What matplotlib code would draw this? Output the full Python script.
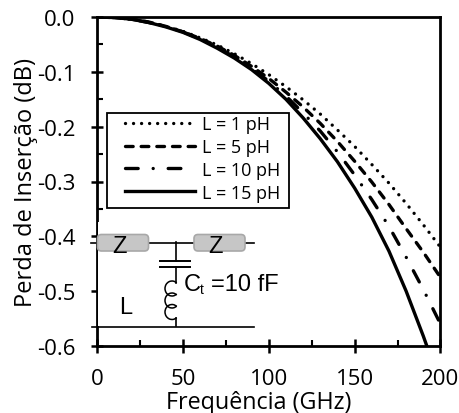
#!/usr/bin/env python
import matplotlib
matplotlib.use('Agg')
import matplotlib.pyplot as plt
from matplotlib.patches import Arc, FancyBboxPatch, Rectangle

freq = [0, 10, 20, 30, 40, 50, 60, 70, 80, 90, 100, 110, 120, 130, 140, 150, 160, 170, 180, 190, 200]
loss_1 = [0, -0.001, -0.004, -0.009, -0.017, -0.026, -0.038, -0.051, -0.067, -0.085, -0.105,
          -0.127, -0.151, -0.177, -0.206, -0.236, -0.269, -0.303, -0.340, -0.379, -0.420]
loss_5 = [0, -0.001, -0.004, -0.009, -0.017, -0.027, -0.039, -0.053, -0.070, -0.090, -0.112,
          -0.137, -0.164, -0.194, -0.227, -0.263, -0.301, -0.342, -0.386, -0.429, -0.475]
loss_10 = [0, -0.001, -0.004, -0.010, -0.017, -0.027, -0.040, -0.055, -0.073, -0.094, -0.117,
           -0.144, -0.175, -0.208, -0.246, -0.288, -0.333, -0.382, -0.438, -0.497, -0.560]
loss_15 = [0, -0.001, -0.004, -0.010, -0.018, -0.028, -0.041, -0.057, -0.075, -0.096, -0.121,
           -0.150, -0.184, -0.222, -0.264, -0.312, -0.365, -0.427, -0.500, -0.582, -0.670]
labels = ['L = 1 pH', 'L = 5 pH', 'L = 10 pH', 'L = 15 pH']
styles = [(0, (0.01, 2.4)), (0, (2.3, 2.4)), (0, (3.8, 4.5, 0.01, 4.5)), '-']

W, H = 460, 414
plt.rcParams['font.family'] = ['Open Sans', 'DejaVu Sans']

fig = plt.figure(figsize=(W / 100, H / 100), dpi=100)
ax = fig.add_axes([97 / W, 1 - 347 / H, 343.5 / W, 329 / H])

for vals, lab, ls in zip([loss_1, loss_5, loss_10, loss_15], labels, styles):
    line, = ax.plot(freq, vals, color='k', lw=2.4, label=lab, linestyle=ls)
    line.set_dash_capstyle('round')

ax.set_xlim(0, 200)
ax.set_ylim(-0.6, 0)
ax.set_xticks([0, 50, 100, 150, 200])
ax.set_xticks([25, 75, 125, 175], minor=True)
ax.set_yticks([-0.6, -0.5, -0.4, -0.3, -0.2, -0.1, 0])
ax.set_yticks([-0.55, -0.45, -0.35, -0.25, -0.15, -0.05], minor=True)
ax.set_yticklabels(['-0.6', '-0.5', '-0.4', '-0.3', '-0.2', '-0.1', '0.0'])
ax.tick_params(axis='x', which='major', direction='inout', length=9.5, width=1.8, labelsize=16, pad=11)
ax.tick_params(axis='x', which='minor', direction='in', length=4, width=1.5)
ax.tick_params(axis='y', which='major', direction='inout', length=8, width=1.8, labelsize=16, pad=11.5)
ax.tick_params(axis='y', which='minor', direction='in', length=4, width=1.5)
for s in ax.spines.values():
    s.set_linewidth(2)
ax.set_xlabel('Frequência (GHz)', fontsize=16.8)
ax.set_ylabel('Perda de Inserção (dB)', fontsize=17)
ax.xaxis.set_label_coords(162 / 343.5, -44 / 329)
ax.yaxis.set_label_coords(-59 / 343.5, 0.5)

# legend box is drawn by hand so the handles can sit inset from the frame
sk = fig.add_axes([0, 0, 1, 1], xlim=(0, W), ylim=(H, 0))
sk.axis('off')
sk.patch.set_alpha(0)

ax.add_patch(Rectangle((107, 114), 182, 95, fc='w', ec='k', lw=1.3, transform=sk.transData,
                       clip_on=False, zorder=4))
leg = ax.legend(loc='upper left', bbox_to_anchor=(28 / 343.5, 1 - 98 / 329), borderaxespad=0,
                frameon=False, fontsize=13, handlelength=3.9, labelspacing=0.27,
                handletextpad=0.35, borderpad=0)
leg.set_zorder(5)

# circuit sketch, in pixel coordinates
sk.add_patch(Rectangle((97.6, 223), 160, 103.5, fc='w', ec='none', zorder=1))
sk.plot([91, 254], [243.5, 243.5], color='k', lw=1.2, zorder=2)
sk.plot([92, 254], [327.5, 327.5], color='k', lw=1.2, zorder=2)
sk.plot([176, 176], [243, 262], color='k', lw=1.2, zorder=2)
sk.plot([176, 176], [268, 284], color='k', lw=1.2, zorder=2)
sk.plot([176, 176], [319, 327], color='k', lw=1.2, zorder=2)
sk.plot([160, 190], [262, 262], color='k', lw=1.4, zorder=2)
sk.plot([160, 190], [267.5, 267.5], color='k', lw=1.4, zorder=2)
for yc in [289.5, 301.5, 313]:
    sk.add_patch(Arc((172, yc), 14, 15, theta1=50, theta2=310, color='k', lw=1.1, zorder=2))
for x0 in [97.5, 194]:
    sk.add_patch(FancyBboxPatch((x0, 235.5), 51, 16.5, boxstyle='round,pad=0,rounding_size=4',
                                fc='#c6c6c6', ec='#a8a8a8', lw=1.2, zorder=3))
    sk.text(x0 + 22, 247, 'Z', fontsize=17, family='Liberation Sans', ha='center', va='center', zorder=4)
sk.text(184, 285, 'C', fontsize=17, family='Liberation Sans', ha='left', va='center')
sk.text(200, 290, 't', fontsize=10, family='Liberation Sans', ha='left', va='center')
sk.text(211, 285, '=10 fF', fontsize=17, family='Liberation Sans', ha='left', va='center')
sk.text(126, 308, 'L', fontsize=17, family='Liberation Sans', ha='center', va='center')

fig.savefig('out.png', dpi=100)
